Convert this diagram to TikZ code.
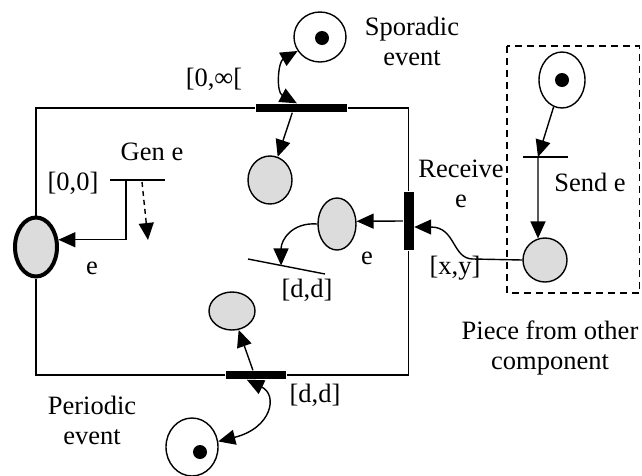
\documentclass[tikz,border=0pt]{standalone}
\usepackage{fontspec}
\setmainfont{Liberation Serif}
\usetikzlibrary{arrows.meta,calc,shapes.geometric}
\definecolor{placegray}{RGB}{220,220,220}
\begin{document}
\begin{tikzpicture}[x=1pt,y=-1pt,line width=1.4pt,
  font=\fontsize{26.5}{30}\selectfont,
  place/.style={ellipse,draw,fill=placegray,inner sep=0pt},
  tok/.style={ellipse,draw,fill=white,inner sep=0pt},
  tokdot/.style={circle,fill=black,minimum size=14pt,inner sep=0pt},
  bar/.style={rectangle,fill=black,inner sep=0pt},
  arr/.style={-{Triangle[length=17pt,width=15pt]}},
  darr/.style={{Triangle[length=17pt,width=15pt]}-{Triangle[length=17pt,width=15pt]}},
  lbl/.style={align=center,inner sep=0pt}]
\useasboundingbox (0,0) rectangle (642,475);

% main component frame
\node[place,line width=4pt,minimum width=42pt,minimum height=59pt] (leftP) at (36,247) {};
\node[bar,minimum width=91pt,minimum height=8pt] (topBar) at (301.5,108) {};
\node[bar,minimum width=10pt,minimum height=58pt] (recBar) at (408.5,221) {};
\node[bar,minimum width=60pt,minimum height=8pt] (botBar) at (256,375) {};
\coordinate (cTL) at (36,108);
\coordinate (cTR) at (408.5,108);
\coordinate (cBR) at (408.5,375);
\coordinate (cBL) at (36,375);
\draw (leftP.north) -- (cTL) -- (topBar.west);
\draw (topBar.east) -- (cTR) -- (recBar.north);
\draw (recBar.south) -- (cBR) -- (botBar.east);
\draw (botBar.west) -- (cBL) -- (leftP.south);

% sporadic event
\node[tok,minimum width=52pt,minimum height=50pt] (spor) at (320,37) {};
\node[tokdot] (sporDot) at (322,38) {};
\node[place,minimum width=44pt,minimum height=48pt] (spOut) at (270,180) {};
\coordinate (topIn) at ($(topBar.north west)!0.45!(topBar.north east)$);
\coordinate (topOut) at ($(topBar.south west)!0.4!(topBar.south east)$);
\draw[darr] (spor.212) .. controls (278,62) and (276,92) .. (topIn);
\draw[arr] (topOut) -- (spOut);

% receive e
\node[place,minimum width=38pt,minimum height=52pt] (eP) at (337,224) {};
\draw[arr] (recBar.west) -- (eP.8);
\coordinate (tl1) at (248,259);
\coordinate (tl2) at (325,274);
\draw (tl1) -- (tl2);
\coordinate (tlHit) at ($(tl1)!0.43!(tl2)$);
\draw[arr] (eP.west) .. controls (292,222) and (281,240) .. (tlHit);

% periodic event
\node[place,minimum width=46pt,minimum height=38pt] (lowP) at (232,311) {};
\coordinate (botOut) at ($(botBar.north west)!0.45!(botBar.north east)$);
\coordinate (botIn) at ($(botBar.south west)!0.35!(botBar.south east)$);
\draw[arr] (botOut) -- (lowP);
\node[tok,minimum width=52pt,minimum height=58pt] (perP) at (192,447) {};
\node[tokdot] (perDot) at (200,452) {};
\draw[darr] (botIn) .. controls (278,395) and (272,428) .. (perP.12);

% Gen e
\coordinate (gTl) at (110,180);
\coordinate (gTr) at (165,180);
\coordinate (gT) at (126,180);
\draw (gTl) -- (gTr);
\draw[arr] (gT) |- (leftP.18);
\coordinate (gD1) at (142,182);
\coordinate (gD2) at (148,240);
\draw[arr,dash pattern=on 5pt off 4pt] (gD1) -- (gD2);

% piece from other component
\draw[dash pattern=on 7pt off 5pt] (507,46) rectangle (639.5,293);
\node[tok,minimum width=46pt,minimum height=56pt] (sendP) at (562,80) {};
\node[tokdot] (sendDot) at (562,80) {};
\coordinate (sTl) at (523,157);
\coordinate (sTr) at (568,157);
\coordinate (sT) at (538,157);
\draw (sTl) -- (sTr);
\draw[arr] (sendP) -- (sT);
\node[place,minimum width=44pt,minimum height=44pt] (recvP) at (545,260) {};
\draw[arr] (sT) -- (recvP.108);
\coordinate (xyBend) at (473,259);
\draw[arr] (recvP.west) -- (xyBend) .. controls (452,259) and (456,227) .. ($(recBar.east)+(0,6)$);

% labels
\node[lbl] (sporL) at (412,41) {Sporadic\\event};
\node (infL) at (214,79) {[0,∞[};
\node (genL) at (152,152) {Gen e};
\node (zeroL) at (73,183) {[0,0]};
\node (eL1) at (92,268) {e};
\node[lbl] (recL) at (461,184) {Receive\\e};
\node (sendL) at (590,182) {Send e};
\node (eL2) at (367,258) {e};
\node (ddL1) at (307,290) {[d,d]};
\node (xyL) at (455,268) {[x,y]};
\node (ddL2) at (315,395) {[d,d]};
\node[lbl] (perL) at (92,420) {Periodic\\event};
\node[lbl] (pieceL) at (550,348) {Piece from other\\component};
\end{tikzpicture}
\end{document}
